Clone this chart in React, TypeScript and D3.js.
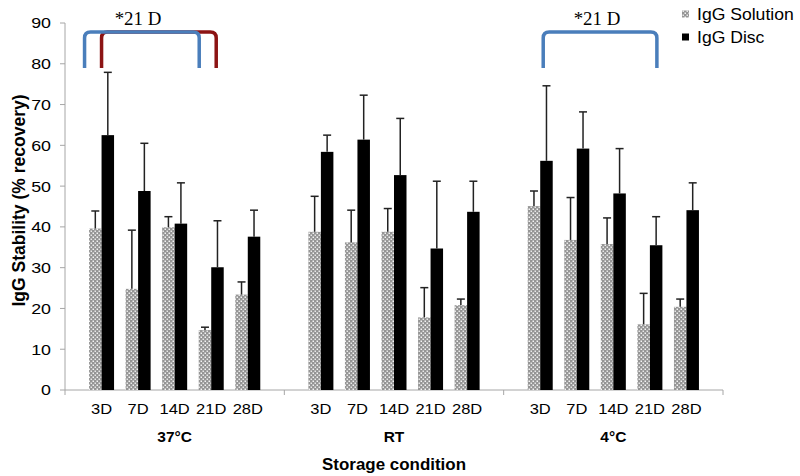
import React from "react";
import * as d3 from "d3";

const groups = ["37°C", "RT", "4°C"];
const categories = ["3D", "7D", "14D", "21D", "28D"];
const seriesNames = ["IgG Solution", "IgG Disc"];

// means per group (rows) per category (cols)
const solutionMeans = [
  [39.6, 24.8, 39.9, 14.7, 23.4],
  [38.8, 36.2, 38.8, 17.8, 20.8],
  [45.1, 36.8, 35.8, 16.1, 20.4],
];
const solutionErrors = [
  [4.3, 14.4, 2.6, 0.7, 3.1],
  [8.7, 7.9, 5.7, 7.3, 1.5],
  [3.7, 10.4, 6.4, 7.6, 1.9],
];
const discMeans = [
  [62.5, 48.8, 40.8, 30.1, 37.6],
  [58.4, 61.4, 52.7, 34.7, 43.7],
  [56.2, 59.2, 48.2, 35.5, 44.1],
];
const discErrors = [
  [15.4, 11.7, 10.0, 11.4, 6.5],
  [4.1, 10.9, 13.9, 16.5, 7.5],
  [18.4, 9.0, 11.0, 7.0, 6.7],
];
const yTicks = [0, 10, 20, 30, 40, 50, 60, 70, 80, 90];

const W = 800;
const H = 476;
const M = { left: 65, right: 723, top: 23, bottom: 390 };
const SANS = "'Liberation Sans', Arial, sans-serif";
const SERIF = "'Liberation Serif', 'DejaVu Serif', serif";

function SText(props: {
  x: number;
  y: number;
  sx?: number;
  anchor?: string;
  size: number;
  bold?: boolean;
  family?: string;
  children: React.ReactNode;
}) {
  const { x, y, sx = 1.1, anchor = "middle", size, bold, family = SANS, children } = props;
  return (
    <g transform={`translate(${x},${y}) scale(${sx},1)`}>
      <text
        x={0}
        y={0}
        dy="0.35em"
        textAnchor={anchor as any}
        fontFamily={family}
        fontSize={size}
        fontWeight={bold ? "bold" : "normal"}
        fill="#000"
      >
        {children}
      </text>
    </g>
  );
}

export default function App() {
  const x0 = d3.scaleBand<string>().domain(groups).range([M.left, M.right]).padding(0);
  const x1 = d3
    .scaleBand<string>()
    .domain(categories)
    .range([0, x0.bandwidth()])
    .paddingInner(0)
    .paddingOuter(0.5);
  const y = d3.scaleLinear().domain([0, 90]).range([M.bottom, M.top]);
  const barW = 12.5;
  const xs = d3.scaleBand<string>().domain(seriesNames).range([-barW, barW]);

  const catCenter = (g: string, c: string) =>
    (x0(g) as number) + (x1(c) as number) + x1.bandwidth() / 2;

  const bars: any[] = [];
  groups.forEach((g, gi) => {
    categories.forEach((c, ci) => {
      const cx = catCenter(g, c);
      [
        { s: seriesNames[0], v: solutionMeans[gi][ci], e: solutionErrors[gi][ci] },
        { s: seriesNames[1], v: discMeans[gi][ci], e: discErrors[gi][ci] },
      ].forEach((d) => {
        bars.push({ key: `${g}-${c}-${d.s}`, x: cx + (xs(d.s) as number), w: xs.bandwidth(), ...d });
      });
    });
  });

  const bracket = (x1p: number, x2p: number, yTop: number, yBot: number) => {
    const r = 6;
    return `M${x1p},${yBot} L${x1p},${yTop + r} Q${x1p},${yTop} ${x1p + r},${yTop} L${x2p - r},${yTop} Q${x2p},${yTop} ${x2p},${yTop + r} L${x2p},${yBot}`;
  };
  const bTop = 32;
  const bBot = 68;
  const blue = "#4a7ebb";
  const red = "#8c1414";

  const gridTicks = [M.left, ...groups.map((g) => (x0(g) as number) + x0.bandwidth())];

  return (
    <svg width={W} height={H} style={{ position: "fixed", left: 0, top: 0, background: "#fff" }}>
      <defs>
        <pattern id="dots" width="4" height="4" patternUnits="userSpaceOnUse">
          <rect width="4" height="4" fill="#959595" />
          <rect x="0.5" y="0.5" width="1.5" height="1.5" fill="#f4f4f4" />
          <rect x="2.5" y="2.5" width="1.5" height="1.5" fill="#e8e8e8" />
        </pattern>
      </defs>
      <rect width={W} height={H} fill="#fff" />

      {/* y axis */}
      <line x1={M.left} x2={M.left} y1={M.top} y2={M.bottom} stroke="#a6a6a6" strokeWidth={1} />
      {yTicks.map((t) => (
        <g key={t}>
          <line x1={M.left - 5} x2={M.left} y1={y(t)} y2={y(t)} stroke="#a6a6a6" />
          <SText x={51} y={y(t)} anchor="end" size={15.5} sx={1.15}>
            {t}
          </SText>
        </g>
      ))}
      {/* x axis */}
      <line x1={M.left} x2={M.right} y1={M.bottom} y2={M.bottom} stroke="#a6a6a6" />
      {gridTicks.map((t, i) => (
        <line key={i} x1={t} x2={t} y1={M.bottom} y2={M.bottom + 5} stroke="#a6a6a6" />
      ))}

      {/* bars */}
      {bars.map((b) => (
        <rect
          key={b.key}
          x={b.x}
          y={y(b.v)}
          width={b.w}
          height={y(0) - y(b.v)}
          fill={b.s === seriesNames[0] ? "url(#dots)" : "#000"}
        />
      ))}
      {/* error bars */}
      {bars.map((b) => {
        const cx = b.x + b.w / 2;
        return (
          <g key={"e" + b.key} stroke="#222" strokeWidth={1.5}>
            <line x1={cx} x2={cx} y1={y(b.v)} y2={y(b.v + b.e)} />
            <line x1={cx - 4} x2={cx + 4} y1={y(b.v + b.e)} y2={y(b.v + b.e)} />
          </g>
        );
      })}

      {/* category labels */}
      {groups.map((g) =>
        categories.map((c) => (
          <SText key={g + c} x={catCenter(g, c)} y={409} size={15} sx={1.1}>
            {c}
          </SText>
        ))
      )}
      {groups.map((g) => (
        <SText key={g} x={(x0(g) as number) + x0.bandwidth() / 2} y={437} size={15.5} sx={1.0} bold>
          {g}
        </SText>
      ))}
      <SText x={(M.left + M.right) / 2} y={464} size={16} sx={1.06} bold>
        Storage condition
      </SText>
      <text
        transform={`translate(19,${(M.top + M.bottom) / 2 - 6}) rotate(-90)`}
        textAnchor="middle"
        dy="0.35em"
        fontFamily={SANS}
        fontSize={17.5}
        fontWeight="bold"
      >
        IgG Stability (% recovery)
      </text>

      {/* brackets */}
      <path
        d={bracket(catCenter(groups[0], "3D"), catCenter(groups[0], "21D") + 5, bTop, bBot)}
        fill="none"
        stroke={red}
        strokeWidth={3.5}
      />
      <path
        d={bracket(catCenter(groups[0], "3D") - 17, catCenter(groups[0], "21D") - 12, bTop, bBot)}
        fill="none"
        stroke={blue}
        strokeWidth={3.5}
      />
      <SText x={138} y={19} size={18} sx={1.05} family={SERIF}>
        *21 D
      </SText>
      <path
        d={bracket(catCenter(groups[2], "3D") + 3, catCenter(groups[2], "21D") + 7, bTop, bBot)}
        fill="none"
        stroke={blue}
        strokeWidth={3.5}
      />
      <SText x={597} y={19} size={18} sx={1.05} family={SERIF}>
        *21 D
      </SText>

      {/* legend */}
      {seriesNames.map((s, i) => (
        <g key={s}>
          <rect x={682} y={14 + i * 23 - 3.5} width={7} height={7} fill={i === 0 ? "url(#dots)" : "#000"} />
          <SText x={697} y={14 + i * 23} anchor="start" size={16} sx={1.1}>
            {s}
          </SText>
        </g>
      ))}
    </svg>
  );
}
